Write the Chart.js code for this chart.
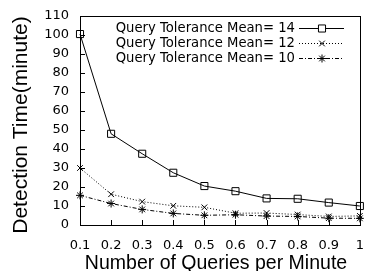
<!DOCTYPE html>
<html><head><meta charset="utf-8">
<script src="https://cdn.jsdelivr.net/npm/chart.js@4/dist/chart.umd.min.js"></script>
<style>html,body{margin:0;padding:0;background:#fff}#wrap{width:369px;height:271px}</style>
</head><body><div id="wrap"><canvas id="c" width="369" height="271"></canvas></div>
<script>
const categories = ['0.1','0.2','0.3','0.4','0.5','0.6','0.7','0.8','0.9','1'];
const mean14 = [100.5, 48, 37.5, 27.5, 20.5, 17.8, 14, 13.8, 11.8, 10];
const mean12 = [30, 16.2, 12.3, 10.1, 9.3, 6.2, 6.3, 5.5, 4.5, 4.8];
const mean10 = [15.6, 11.3, 8.2, 6.1, 5.1, 5.4, 4.7, 4.5, 3.6, 3.5];
const seriesLabels = ['Query Tolerance Mean= 14','Query Tolerance Mean= 12','Query Tolerance Mean= 10'];
const yTicks = [0,10,20,30,40,50,60,70,80,90,100,110];
const xTitle = 'Number of Queries per Minute';
const yTitle = 'Detection Time(minute)';

const FONT = '"Liberation Sans", Arial, Helvetica, sans-serif';
const TFONT = '"DejaVu Sans", sans-serif';

const frame = {
  id: 'frame',
  afterDatasetsDraw(chart) {
    const {ctx, chartArea: a, scales} = chart;
    ctx.save();
    ctx.strokeStyle = '#000'; ctx.lineWidth = 1; ctx.setLineDash([]);
    ctx.strokeRect(Math.round(a.left)+0.5, Math.round(a.top)+0.5, Math.round(a.right-a.left), Math.round(a.bottom-a.top));
    ctx.beginPath();
    scales.y.ticks.forEach(t => {
      const y = Math.round(scales.y.getPixelForValue(t.value)) + 0.5;
      ctx.moveTo(a.left, y); ctx.lineTo(a.left + 5, y);
    });
    categories.forEach((c, i) => {
      const x = Math.round(scales.x.getPixelForValue(i)) + 0.5;
      ctx.moveTo(x, a.bottom); ctx.lineTo(x, a.bottom - 5);
    });
    ctx.stroke();
    // axis titles
    ctx.fillStyle = '#000';
    ctx.font = '19.5px ' + FONT;
    ctx.textAlign = 'center'; ctx.textBaseline = 'alphabetic';
    ctx.fillText(xTitle, 216, 269);
    ctx.save();
    ctx.translate(27, 125);
    ctx.rotate(-Math.PI / 2);
    ctx.font = '21px ' + FONT;
    ctx.fillText(yTitle, 0, 0);
    ctx.restore();
    // legend
    ctx.font = '13.2px ' + TFONT;
    ctx.textAlign = 'right'; ctx.textBaseline = 'middle';
    chart.data.datasets.forEach((ds, i) => {
      const y = 28 + i * 15;
      ctx.fillStyle = '#000';
      ctx.fillText(ds.label, 295, y + 0.5);
      ctx.beginPath();
      ctx.setLineDash(ds.borderDash || []);
      ctx.moveTo(299, y + 0.5); ctx.lineTo(344, y + 0.5);
      ctx.stroke();
      ctx.setLineDash([]);
      ctx.fillStyle = '#fff';
      Chart.helpers.drawPoint(ctx, {pointStyle: ds.pointStyle, radius: ds.pointRadius, borderWidth: 1}, 322, y + 0.5);
    });
    ctx.restore();
  }
};

new Chart(document.getElementById('c'), {
  type: 'line',
  data: {
    labels: categories,
    datasets: [
      {label: seriesLabels[0], data: mean14, borderColor:'#000', backgroundColor:'transparent', borderWidth:1, pointStyle:'rect', pointRadius:5, pointBorderColor:'#000', pointBackgroundColor:'transparent', tension:0},
      {label: seriesLabels[1], data: mean12, borderColor:'#000', backgroundColor:'transparent', borderWidth:1, borderDash:[1,2], pointStyle:'crossRot', pointRadius:4, pointBorderColor:'#000', tension:0},
      {label: seriesLabels[2], data: mean10, borderColor:'#000', backgroundColor:'transparent', borderWidth:1, borderDash:[4,2,1,2], pointStyle:'star', pointRadius:4, pointBorderColor:'#000', tension:0}
    ]
  },
  options: {
    responsive: false, animation: false, devicePixelRatio: 1,
    layout: {padding: {top: 16, right: 7, left: 0, bottom: 0}},
    plugins: {legend: {display: false}, tooltip: {enabled: false}},
    scales: {
      x: {
        type: 'category', offset: false,
        grid: {display: false}, border: {display: false},
        ticks: {color:'#000', font:{family: TFONT, size: 13}, padding: 5, maxRotation: 0, autoSkip: false},
        title: {display: false},
        afterFit(s) { s.height = 46; }
      },
      y: {
        min: 0, max: 110,
        grid: {display: false}, border: {display: false},
        afterBuildTicks(s) { s.ticks = yTicks.map(v => ({value: v})); },
        ticks: {color:'#000', font:{family: TFONT, size: 13}, padding: 3, autoSkip: false},
        title: {display: false},
        afterFit(s) { s.width = 80; }
      }
    }
  },
  plugins: [frame]
});
</script></body></html>
